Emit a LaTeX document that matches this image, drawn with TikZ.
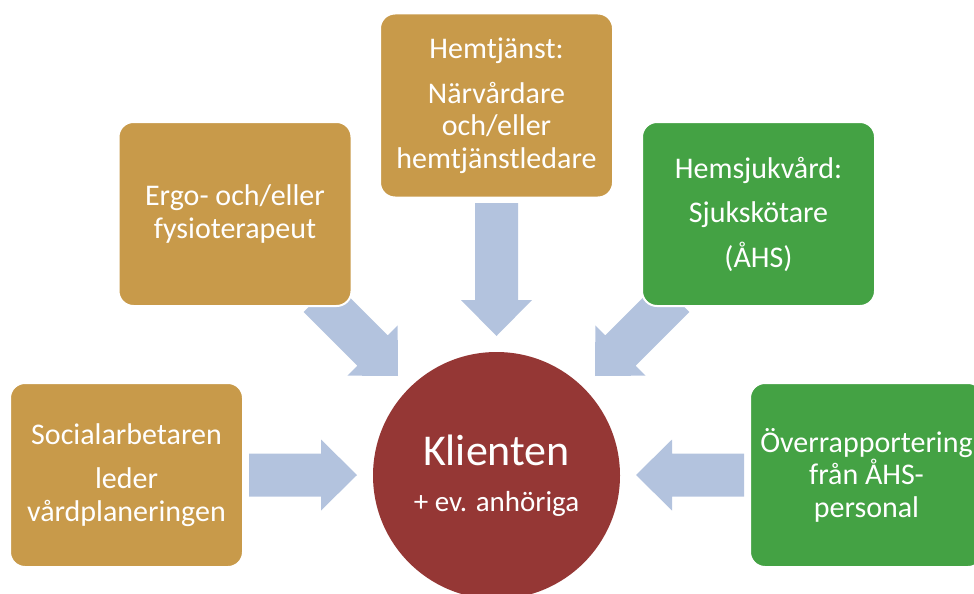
\documentclass[tikz,border=0pt]{standalone}
\usepackage{fontspec}
\setmainfont{Carlito}
\definecolor{gold}{HTML}{C89A4A}
\definecolor{grn}{HTML}{44A244}
\definecolor{wine}{HTML}{953735}
\definecolor{arrowblue}{HTML}{B3C3DE}
\tikzset{
  box/.style={rounded corners=15pt, minimum width=233pt, minimum height=184pt,
    draw=white, line width=2pt, text=white, align=center, inner sep=0pt,
    font=\fontsize{30}{32.5}\selectfont},
  goldbox/.style={box, fill=gold},
  greenbox/.style={box, fill=grn},
  pics/blockarrow/.style={code={
    \fill[arrowblue] (0,-21.5) -- ({#1-36},-21.5) -- ({#1-36},-35.5) -- (#1,0)
      -- ({#1-36},35.5) -- ({#1-36},21.5) -- (0,21.5) -- cycle;
  }}
}
\begin{document}
\begin{tikzpicture}[x=1pt,y=-1pt]
\useasboundingbox (0,0) rectangle (974,594);
\clip (0,0) rectangle (974,594);
% block arrows
\pic at (249,475) {blockarrow=108};
\pic[rotate=180] at (744,475) {blockarrow=108};
\pic[rotate=-90] at (496.5,203) {blockarrow=133};
\pic[rotate=-45] at (318.8,296.8) {blockarrow=112};
\pic[rotate=-135] at (674.2,296.8) {blockarrow=112};
% boxes
\node[goldbox] (social) at (126.5,475) {Socialarbetaren\\[11.5pt]leder\\vårdplaneringen};
\node[goldbox] (ergo) at (235,214) {Ergo- och/eller\\fysioterapeut};
\node[goldbox] (hemt) at (496.5,105.5) {Hemtjänst:\\[12pt]Närvårdare\\och/eller\\hemtjänstledare};
\node[greenbox] (hemsj) at (758.5,214) {Hemsjukvård:\\[12pt]Sjukskötare\\[12pt](ÅHS)};
\node[greenbox] (over) at (866.5,475) {Överrapportering\\från ÅHS-\\personal};
% client
\node[circle, fill=wine, minimum size=247pt, inner sep=0pt, text=white, align=center] (klient) at (496.5,475.5)
  {{\fontsize{44}{44}\selectfont Klienten}\\[25pt]{\fontsize{29}{35}\selectfont + ev. anhöriga}};
\end{tikzpicture}
\end{document}
